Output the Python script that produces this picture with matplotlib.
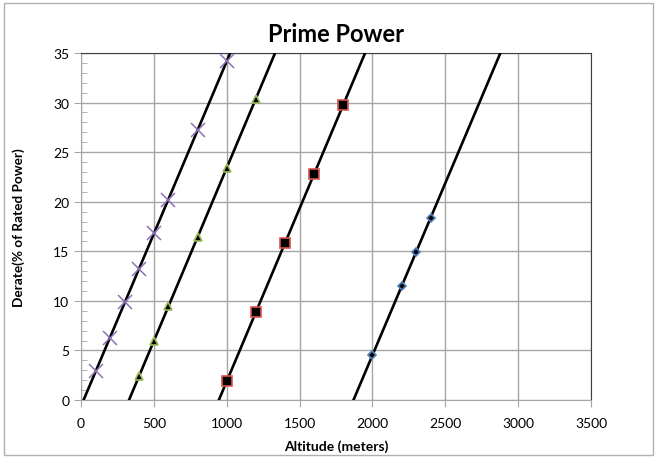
import matplotlib
matplotlib.use('Agg')
import matplotlib.pyplot as plt
import matplotlib.patches as mpatches
import numpy as np

# data
alt_x = [100, 200, 300, 400, 500, 600, 800, 1000]
der_x = [2.9, 6.3, 9.9, 13.2, 16.8, 20.2, 27.2, 34.2]

alt_tri = [400, 500, 600, 800, 1000, 1200]
der_tri = [2.4, 6.0, 9.5, 16.4, 23.4, 30.4]

alt_sq = [1000, 1200, 1400, 1600, 1800]
der_sq = [1.9, 8.85, 15.8, 22.8, 29.8]

alt_dia = [2000, 2200, 2300, 2400]
der_dia = [4.5, 11.5, 14.9, 18.4]

GRID = "#A6A6A6"

plt.rcParams['font.family'] = ['Lato', 'DejaVu Sans']

fig = plt.figure(figsize=(6.57, 4.6), dpi=100)
ax = fig.add_axes([81/657, 1 - 401/460, 510/657, 347/460])

# outer chart border
fig.patches.append(mpatches.Rectangle((4/657, 4/460), 649/657, 452/460,
                                      transform=fig.transFigure, fill=False,
                                      edgecolor="#B0B0B0", linewidth=1))

xs = np.linspace(-200, 3700, 50)
series = [
    (alt_x, der_x, dict(marker='x', color='#8E72B8', markersize=10, markeredgewidth=1.1, linestyle='none')),
    (alt_tri, der_tri, dict(marker='^', markerfacecolor='black', markeredgecolor='#9BBB59', markersize=5.5, markeredgewidth=1.2, linestyle='none')),
    (alt_sq, der_sq, dict(marker='s', markerfacecolor='black', markeredgecolor='#D9534F', markersize=7.5, markeredgewidth=1.2, linestyle='none')),
    (alt_dia, der_dia, dict(marker='D', markerfacecolor='black', markeredgecolor='#4F81BD', markersize=4.5, markeredgewidth=1.2, linestyle='none')),
]
for ax_x, ax_y, style in series:
    k, b = np.polyfit(ax_x, ax_y, 1)
    ax.plot(xs, k * xs + b, color='black', linewidth=1.9, zorder=3)
    ax.plot(ax_x, ax_y, zorder=4, **style)

ax.set_xlim(0, 3500)
ax.set_ylim(0, 35)
ax.set_xticks(np.arange(0, 3501, 500))
ax.set_yticks(np.arange(0, 36, 5))
ax.set_yticks(np.arange(0, 36, 1), minor=True)
ax.grid(True, which='major', color=GRID, linewidth=1, zorder=0)
ax.set_axisbelow(True)
ax.tick_params(axis='both', which='major', labelsize=10, color=GRID, length=5, direction='out')
ax.tick_params(axis='x', which='major', pad=7)
ax.tick_params(axis='y', which='minor', color=GRID, length=4, direction='in')
for side in ['left', 'bottom']:
    ax.spines[side].set_color(GRID)
for side in ['top', 'right']:
    ax.spines[side].set_color('#404040')

ax.set_title("Prime Power", fontsize=17, fontweight='bold', pad=9)
ax.set_xlabel("Altitude (meters)", fontsize=10, fontweight='bold', labelpad=8)
ax.set_ylabel("Derate(% of Rated Power)", fontsize=9.8, fontweight='bold', labelpad=20)

fig.savefig("out.png", dpi=100)
